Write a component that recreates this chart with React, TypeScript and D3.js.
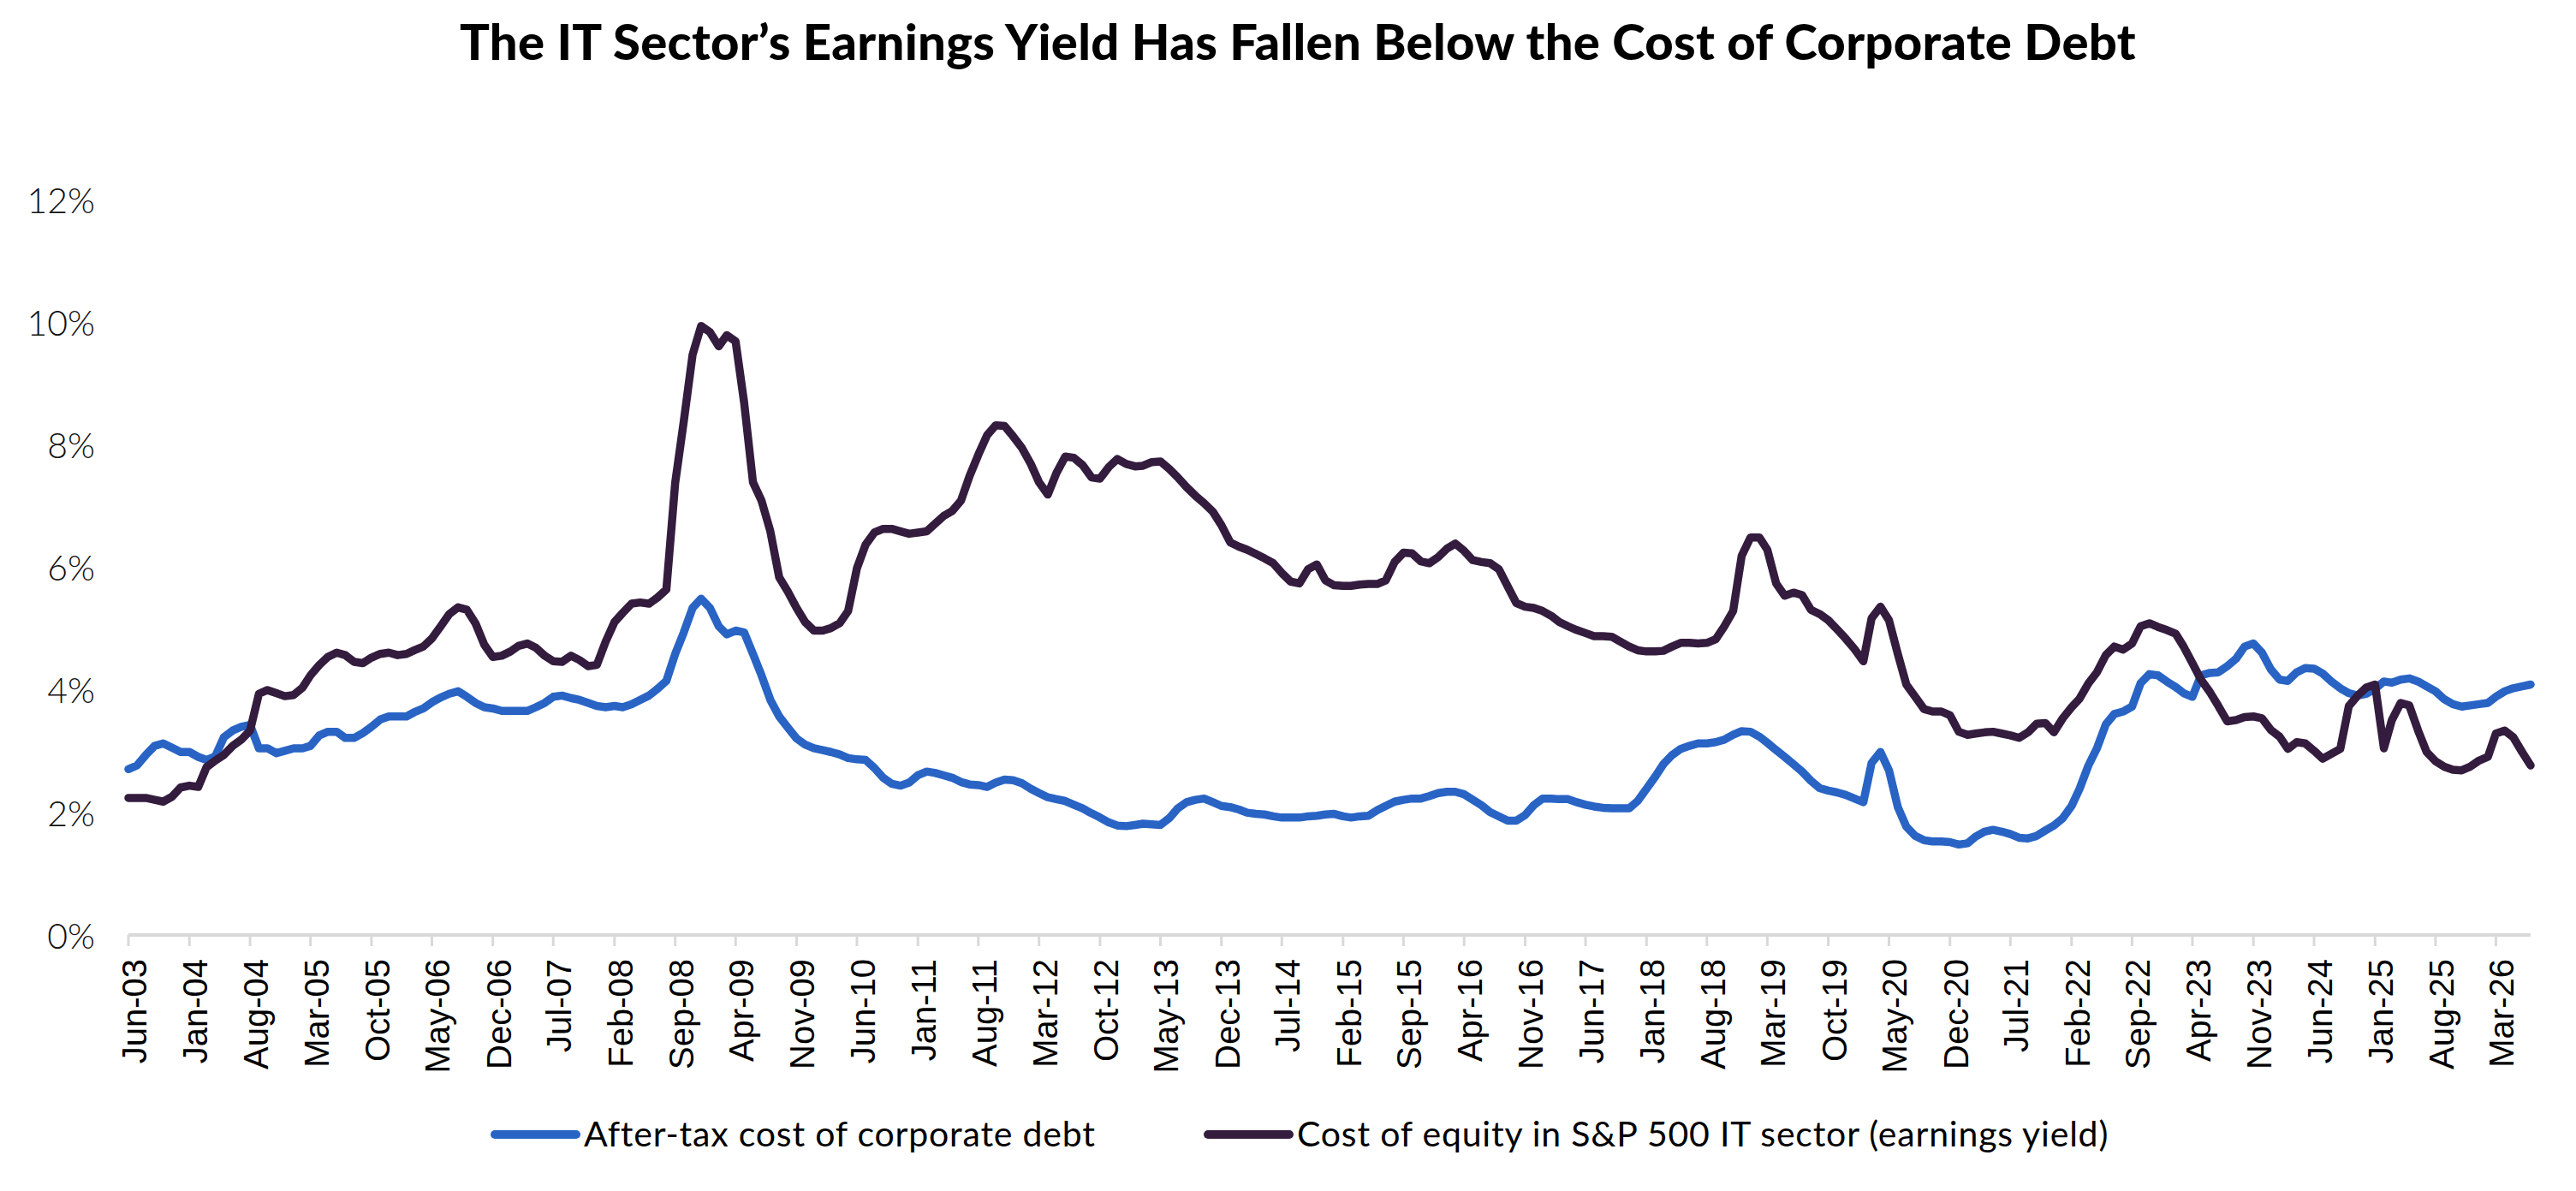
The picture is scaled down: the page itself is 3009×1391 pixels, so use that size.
import { line as d3_line, scaleLinear, scaleUtc, utcMonth, utcParse } from "d3";
import type { FC } from "react";

const START = new Date(Date.UTC(2003, 5, 1)); // Jun-03, one value per month after it

// After-tax cost of corporate debt, % (Jun-03 .. Jul-26)
const debtCost = [
  2.72, 2.78, 2.95, 3.1, 3.14, 3.07, 3.0, // 2003
  3.0, 2.92, 2.87, 2.93, 3.24, 3.35, 3.41, 3.44, 3.06, 3.06, 2.98, 3.02, // 2004
  3.06, 3.06, 3.1, 3.27, 3.33, 3.33, 3.23, 3.23, 3.31, 3.41, 3.53, 3.58, // 2005
  3.58, 3.58, 3.65, 3.71, 3.81, 3.89, 3.95, 3.99, 3.9, 3.8, 3.73, 3.71, // 2006
  3.67, 3.67, 3.67, 3.67, 3.73, 3.8, 3.9, 3.92, 3.88, 3.85, 3.8, 3.75, // 2007
  3.73, 3.75, 3.73, 3.78, 3.85, 3.92, 4.03, 4.16, 4.6, 4.95, 5.35, 5.5, // 2008
  5.35, 5.05, 4.92, 4.98, 4.95, 4.6, 4.25, 3.85, 3.58, 3.4, 3.22, 3.12, // 2009
  3.06, 3.03, 3.0, 2.96, 2.9, 2.88, 2.87, 2.74, 2.58, 2.48, 2.45, 2.5, // 2010
  2.62, 2.68, 2.66, 2.62, 2.58, 2.51, 2.47, 2.46, 2.43, 2.5, 2.55, 2.54, // 2011
  2.49, 2.4, 2.33, 2.26, 2.23, 2.2, 2.14, 2.08, 2.0, 1.93, 1.85, 1.8, // 2012
  1.79, 1.81, 1.83, 1.82, 1.81, 1.92, 2.08, 2.18, 2.22, 2.24, 2.18, 2.12, // 2013
  2.1, 2.06, 2.01, 1.99, 1.98, 1.95, 1.93, 1.93, 1.93, 1.95, 1.96, 1.98, // 2014
  1.99, 1.95, 1.93, 1.95, 1.96, 2.05, 2.12, 2.19, 2.22, 2.24, 2.24, 2.28, // 2015
  2.33, 2.35, 2.35, 2.31, 2.22, 2.13, 2.02, 1.95, 1.88, 1.88, 1.97, 2.13, // 2016
  2.24, 2.24, 2.23, 2.23, 2.18, 2.14, 2.11, 2.09, 2.08, 2.08, 2.08, 2.2, // 2017
  2.4, 2.6, 2.8, 2.95, 3.05, 3.1, 3.14, 3.14, 3.16, 3.2, 3.28, 3.34, // 2018
  3.33, 3.25, 3.15, 3.03, 2.92, 2.8, 2.68, 2.53, 2.41, 2.37, 2.34, 2.3, // 2019
  2.24, 2.18, 2.82, 3.0, 2.7, 2.1, 1.78, 1.63, 1.56, 1.54, 1.54, 1.53, // 2020
  1.49, 1.51, 1.62, 1.7, 1.73, 1.7, 1.66, 1.6, 1.59, 1.63, 1.72, 1.8, // 2021
  1.92, 2.12, 2.4, 2.78, 3.06, 3.45, 3.62, 3.66, 3.74, 4.12, 4.27, 4.25, // 2022
  4.15, 4.06, 3.96, 3.9, 4.25, 4.29, 4.3, 4.4, 4.52, 4.72, 4.77, 4.62, // 2023
  4.35, 4.18, 4.16, 4.3, 4.37, 4.36, 4.28, 4.15, 4.04, 3.96, 3.92, 3.95, // 2024
  4.03, 4.15, 4.13, 4.18, 4.2, 4.15, 4.07, 3.99, 3.86, 3.78, 3.74, 3.76, // 2025
  3.78, 3.8, 3.9, 3.99, 4.04, 4.07, 4.1, // 2026
];

// Cost of equity in S&P 500 IT sector (earnings yield), %
const earningsYield = [
  2.25, 2.25, 2.25, 2.22, 2.19, 2.27, 2.42, // 2003
  2.45, 2.43, 2.75, 2.86, 2.95, 3.1, 3.2, 3.35, 3.95, 4.01, 3.96, 3.91, // 2004
  3.93, 4.05, 4.25, 4.42, 4.55, 4.62, 4.58, 4.47, 4.45, 4.54, 4.6, 4.62, // 2005
  4.58, 4.6, 4.66, 4.72, 4.85, 5.05, 5.25, 5.36, 5.32, 5.1, 4.75, 4.55, // 2006
  4.57, 4.64, 4.73, 4.77, 4.7, 4.57, 4.48, 4.47, 4.57, 4.5, 4.4, 4.42, // 2007
  4.8, 5.12, 5.27, 5.42, 5.44, 5.42, 5.52, 5.65, 7.39, 8.39, 9.48, 9.95, // 2008
  9.85, 9.62, 9.8, 9.7, 8.7, 7.4, 7.1, 6.6, 5.85, 5.62, 5.35, 5.12, // 2009
  4.98, 4.98, 5.02, 5.1, 5.3, 6.0, 6.38, 6.58, 6.64, 6.64, 6.6, 6.56, // 2010
  6.58, 6.6, 6.72, 6.85, 6.93, 7.1, 7.5, 7.85, 8.17, 8.33, 8.32, 8.15, // 2011
  7.96, 7.7, 7.4, 7.2, 7.55, 7.82, 7.8, 7.68, 7.48, 7.46, 7.65, 7.78, // 2012
  7.7, 7.66, 7.67, 7.73, 7.74, 7.62, 7.48, 7.32, 7.18, 7.06, 6.92, 6.7, // 2013
  6.42, 6.35, 6.3, 6.23, 6.16, 6.08, 5.92, 5.78, 5.75, 5.98, 6.06, 5.8, // 2014
  5.72, 5.71, 5.71, 5.73, 5.74, 5.74, 5.8, 6.1, 6.25, 6.24, 6.11, 6.08, // 2015
  6.18, 6.32, 6.4, 6.28, 6.13, 6.1, 6.08, 5.98, 5.7, 5.43, 5.37, 5.35, // 2016
  5.3, 5.22, 5.12, 5.05, 4.99, 4.94, 4.89, 4.89, 4.88, 4.8, 4.72, 4.66, // 2017
  4.64, 4.64, 4.65, 4.72, 4.78, 4.78, 4.77, 4.78, 4.84, 5.05, 5.3, 6.2, // 2018
  6.5, 6.5, 6.3, 5.75, 5.55, 5.6, 5.56, 5.32, 5.25, 5.15, 5.0, 4.85, // 2019
  4.68, 4.48, 5.18, 5.37, 5.15, 4.6, 4.1, 3.9, 3.7, 3.66, 3.66, 3.6, // 2020
  3.33, 3.28, 3.3, 3.32, 3.33, 3.3, 3.27, 3.23, 3.32, 3.46, 3.47, 3.32, // 2021
  3.55, 3.73, 3.87, 4.12, 4.3, 4.58, 4.72, 4.67, 4.77, 5.05, 5.1, 5.04, // 2022
  4.99, 4.93, 4.72, 4.45, 4.18, 3.98, 3.75, 3.5, 3.52, 3.57, 3.58, 3.55, // 2023
  3.36, 3.25, 3.05, 3.16, 3.14, 3.02, 2.89, 2.97, 3.05, 3.75, 3.92, 4.05, // 2024
  4.1, 3.06, 3.52, 3.8, 3.76, 3.35, 3.0, 2.85, 2.76, 2.71, 2.7, 2.76, // 2025
  2.86, 2.92, 3.3, 3.35, 3.24, 3.0, 2.78, // 2026
];

const xTickLabels = [
  "Jun-03", "Jan-04", "Aug-04", "Mar-05", "Oct-05", "May-06", "Dec-06", "Jul-07",
  "Feb-08", "Sep-08", "Apr-09", "Nov-09", "Jun-10", "Jan-11", "Aug-11", "Mar-12",
  "Oct-12", "May-13", "Dec-13", "Jul-14", "Feb-15", "Sep-15", "Apr-16", "Nov-16",
  "Jun-17", "Jan-18", "Aug-18", "Mar-19", "Oct-19", "May-20", "Dec-20", "Jul-21",
  "Feb-22", "Sep-22", "Apr-23", "Nov-23", "Jun-24", "Jan-25", "Aug-25", "Mar-26",
];

const yTicks = [0, 2, 4, 6, 8, 10, 12];

const series = [
  { label: "After-tax cost of corporate debt", color: "#2964C5", values: debtCost },
  {
    label: "Cost of equity in S&P 500 IT sector (earnings yield)",
    color: "#341C3E",
    values: earningsYield,
  },
];

const title = "The IT Sector’s Earnings Yield Has Fallen Below the Cost of Corporate Debt";

const W = 3009;
const H = 1391;

const LineChart: FC = () => {
  const parse = utcParse("%b-%y");
  const lastDate = utcMonth.offset(START, debtCost.length - 1);

  const xScale = scaleUtc().domain([START, lastDate]).range([150, 2956]);
  const yScale = scaleLinear().domain([0, 12]).range([1093, 234]);

  const line = d3_line<number>()
    .x((_, i) => xScale(utcMonth.offset(START, i)))
    .y((d) => yScale(d));

  const axisY = yScale(0) - 1;

  return (
    <svg
      width={W}
      height={H}
      viewBox={`0 0 ${W} ${H}`}
      style={{ position: "absolute", left: 0, top: 0, background: "#fff" }}
    >
      {/* Título */}
      <text
        x={1516}
        y={70}
        textAnchor="middle"
        fontFamily="Lato, sans-serif"
        fontWeight={900}
        fontSize={58}
        letterSpacing={0.3}
        fill="#000"
      >
        {title}
      </text>

      {/* Eje Y */}
      {yTicks.map((v) => (
        <text
          key={v}
          x={111}
          y={yScale(v)}
          dy="0.36em"
          textAnchor="end"
          fontFamily="Lato, sans-serif"
          fontWeight={300}
          fontSize={41}
          fill="#111"
        >
          {`${v}%`}
        </text>
      ))}

      {/* Eje X */}
      <line
        x1={xScale(START)}
        x2={xScale(lastDate)}
        y1={axisY}
        y2={axisY}
        stroke="#D9D9D9"
        strokeWidth={4}
      />
      {xTickLabels.map((label) => {
        const x = xScale(parse(label)!);
        return (
          <g key={label}>
            <line x1={x} x2={x} y1={axisY} y2={axisY + 13} stroke="#D9D9D9" strokeWidth={3} />
            <text
              transform={`translate(${x},1120) rotate(-90)`}
              dy={21}
              textAnchor="end"
              fontFamily="'Liberation Sans', Arial, sans-serif"
              fontSize={40}
              fill="#000"
            >
              {label}
            </text>
          </g>
        );
      })}

      {/* Líneas */}
      {series.map((s) => (
        <path
          key={s.label}
          d={line(s.values) ?? ""}
          fill="none"
          stroke={s.color}
          strokeWidth={9.5}
          strokeLinejoin="round"
          strokeLinecap="round"
        />
      ))}

      {/* Leyenda */}
      {series.map((s, i) => {
        const x0 = i === 0 ? 578 : 1411;
        return (
          <g key={s.label}>
            <line
              x1={x0}
              x2={x0 + 95}
              y1={1325}
              y2={1325}
              stroke={s.color}
              strokeWidth={10}
              strokeLinecap="round"
            />
            <text
              x={x0 + 104}
              y={1339}
              fontFamily="Lato, sans-serif"
              fontSize={41}
              letterSpacing={0.8}
              fill="#000"
            >
              {s.label}
            </text>
          </g>
        );
      })}
    </svg>
  );
};

export default function App() {
  return <LineChart />;
}
